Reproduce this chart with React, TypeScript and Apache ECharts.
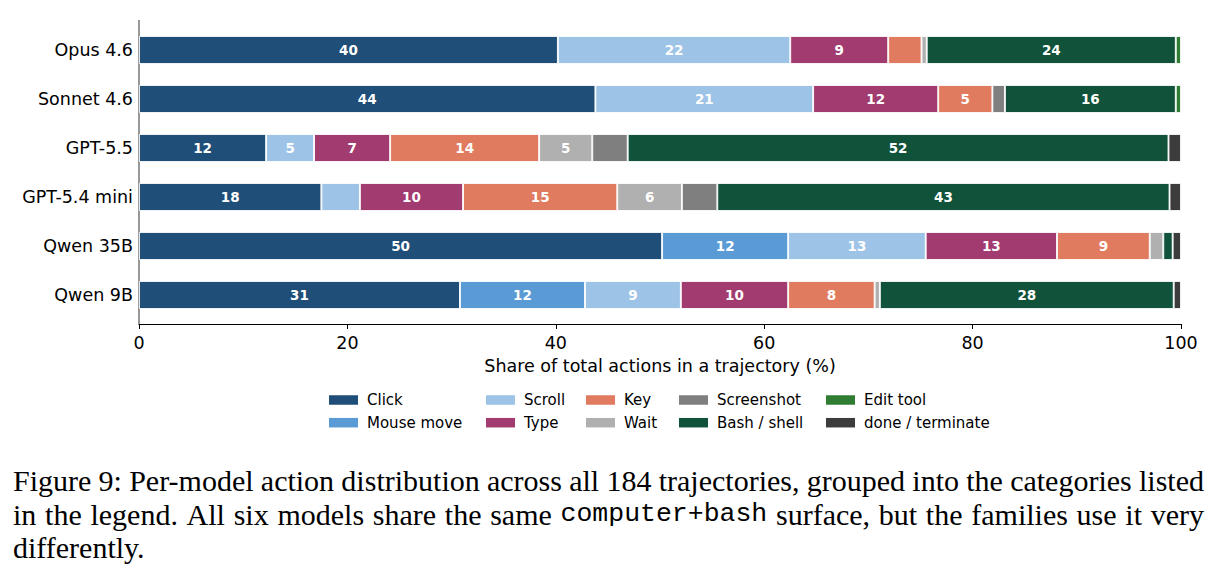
import React, { useEffect, useRef } from "react";
import * as echarts from "echarts";

// ---------- data ----------
const models = ["Opus 4.6", "Sonnet 4.6", "GPT-5.5", "GPT-5.4 mini", "Qwen 35B", "Qwen 9B"];
const actionNames = [
  "Click",
  "Mouse move",
  "Scroll",
  "Type",
  "Key",
  "Wait",
  "Screenshot",
  "Bash / shell",
  "Edit tool",
  "done / terminate",
];
// share (%) per model, in the order of `models`
const clickShare = [40.2, 43.8, 12.2, 17.5, 50.2, 30.8];
const mouseMoveShare = [0, 0, 0, 0, 12.1, 12.0];
const scrollShare = [22.3, 20.9, 4.6, 3.7, 13.2, 9.2];
const typeShare = [9.4, 12.0, 7.3, 9.9, 12.6, 10.3];
const keyShare = [3.2, 5.2, 14.3, 14.8, 8.9, 8.3];
const waitShare = [0.5, 0, 5.1, 6.2, 1.3, 0.5];
const screenshotShare = [0, 1.2, 3.4, 3.4, 0, 0];
const bashShare = [23.9, 16.4, 51.9, 43.4, 0.9, 28.2];
const editToolShare = [0.5, 0.5, 0, 0, 0, 0];
const doneShare = [0, 0, 1.2, 1.1, 0.8, 0.7];
const seriesValues = [
  clickShare,
  mouseMoveShare,
  scrollShare,
  typeShare,
  keyShare,
  waitShare,
  screenshotShare,
  bashShare,
  editToolShare,
  doneShare,
];
const xTickStep = 20;
const xMin = 0;
const xMax = 100;
const xAxisTitle = "Share of total actions in a trajectory (%)";
const labelThreshold = 4;

const captionLine1 =
  "Figure 9: Per-model action distribution across all 184 trajectories, grouped into the categories listed";
const captionLine2 =
  "in the legend. All six models share the same computer+bash surface, but the families use it very";
const captionLine3 = "differently.";
const monoWord = "computer+bash";

// ---------- styles ----------
const colors = [
  "#1f4e79",
  "#5b9bd5",
  "#9dc3e6",
  "#a23b6f",
  "#e07b60",
  "#b0b0b0",
  "#7f7f7f",
  "#10523a",
  "#2e7d32",
  "#3c3c3c",
];
const legendColumns = [
  ["Click", "Mouse move"],
  ["Scroll", "Type"],
  ["Key", "Wait"],
  ["Screenshot", "Bash / shell"],
  ["Edit tool", "done / terminate"],
];
const legendLefts = [329, 486, 586, 679, 826];

const SERIF_FONT = '30px "Liberation Serif", "Times New Roman", serif';
const MONO_FONT = '26.5px "Liberation Mono", "DejaVu Sans Mono", monospace';

export default function App() {
  const ref = useRef<HTMLDivElement>(null);

  useEffect(() => {
    if (!ref.current) return;
    const chart = echarts.init(ref.current, undefined, { renderer: "svg" });

    // measure caption words for justified lines
    const canvas = document.createElement("canvas");
    const ctx = canvas.getContext("2d")!;
    const measure = (w: string, font: string) => {
      ctx.font = font;
      return ctx.measureText(w).width;
    };
    const capLeft = 13;
    const capRight = 1204;
    const buildLine = (line: string, y: number, justify: boolean) => {
      const words = line.split(" ");
      const fonts = words.map((w) => (w === monoWord ? MONO_FONT : SERIF_FONT));
      const widths = words.map((w, i) => measure(w, fonts[i]));
      const total = widths.reduce((a, b) => a + b, 0);
      const gap = justify
        ? (capRight - capLeft - total) / (words.length - 1)
        : measure(" ", SERIF_FONT);
      let x = capLeft;
      return words.map((w, i) => {
        const el = {
          type: "text",
          x,
          y,
          silent: true,
          style: {
            text: w,
            font: fonts[i],
            fill: "#000",
            textAlign: "left",
            textVerticalAlign: "middle",
          },
        };
        x += widths[i] + gap;
        return el;
      });
    };
    const captionEls = [
      ...buildLine(captionLine1, 480.5, true),
      ...buildLine(captionLine2, 514, true),
      ...buildLine(captionLine3, 547.5, false),
    ];

    const option: any = {
      animation: false,
      textStyle: { fontFamily: "DejaVu Sans" },
      grid: { left: 139, right: 39, top: 25.5, height: 294, containLabel: false },
      xAxis: {
        type: "value",
        min: xMin,
        max: xMax,
        interval: xTickStep,
        offset: 4.5,
        axisLine: { show: true, lineStyle: { color: "#000", width: 1 } },
        axisTick: { show: true, length: 5, lineStyle: { color: "#000", width: 1 } },
        axisLabel: { fontSize: 17.5, color: "#000", margin: 10 },
        splitLine: { show: false },
        name: xAxisTitle,
        nameLocation: "middle",
        nameGap: 31,
        nameTextStyle: { fontSize: 17.5, color: "#000" },
      },
      yAxis: {
        type: "category",
        data: models,
        inverse: true,
        axisLine: { show: false },
        axisTick: { show: false },
        axisLabel: { fontSize: 17.5, color: "#000", margin: 6 },
        splitLine: { show: false },
      },
      legend: legendColumns.map((col, ci) => ({
        data: col,
        orient: "vertical",
        left: legendLefts[ci],
        top: 392.5,
        itemWidth: 29,
        itemHeight: 9.5,
        itemGap: 7.7,
        icon: "rect",
        padding: 0,
        selectedMode: false,
        textStyle: { fontSize: 15, color: "#000", padding: [0, 0, 0, 4] },
        itemStyle: { borderWidth: 0 },
      })),
      graphic: [
        {
          type: "line",
          silent: true,
          shape: { x1: 139, y1: 20, x2: 139, y2: 324.5 },
          style: { stroke: "#7f7f7f", lineWidth: 1.6 },
        },
        ...captionEls,
      ],
      series: actionNames.map((name, i) => ({
        name,
        type: "bar",
        stack: "total",
        barWidth: 28,
        itemStyle: { color: colors[i], borderColor: "#ffffff", borderWidth: 0.9 },
        emphasis: { disabled: true },
        label: {
          show: true,
          position: "inside",
          color: "#fff",
          fontWeight: "bold",
          fontSize: 13.5,
          fontFamily: "DejaVu Sans",
          formatter: (p: any) =>
            p.value >= labelThreshold ? String(Math.round(p.value)) : "",
        },
        data: seriesValues[i].map((v) => (v > 0 ? v : null)),
      })),
    };
    chart.setOption(option);
    return () => chart.dispose();
  }, []);

  return (
    <div
      ref={ref}
      style={{ position: "absolute", left: 0, top: 0, width: 1220, height: 577, background: "#fff" }}
    />
  );
}
